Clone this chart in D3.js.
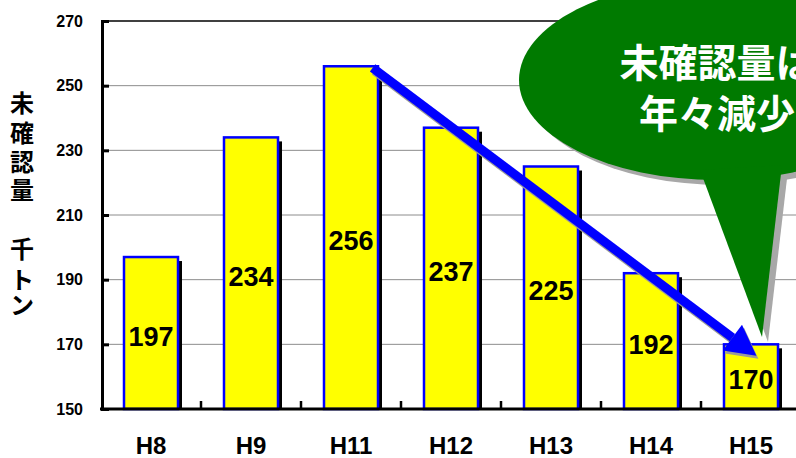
<!DOCTYPE html>
<html>
<head>
<meta charset="utf-8">
<script src="https://cdn.jsdelivr.net/npm/d3@7"></script>
<style>
  body { margin: 0; background: #fff; }
  svg { display: block; }
</style>
</head>
<body>
<svg id="chart" width="796" height="458"></svg>
<script>
  // data
  var categories = ['H8', 'H9', 'H11', 'H12', 'H13', 'H14', 'H15'];
  var values = [197, 234, 256, 237, 225, 192, 170];
  var yTicks = [150, 170, 190, 210, 230, 250, 270];
  var axisTitleTop = ['未', '確', '認', '量'];
  var axisTitleUnit = ['千', 'ト', 'ン'];
  var calloutLines = ['未確認量は', '年々減少'];

  var svg = d3.select('#chart');
  var jpFont = '"Noto Sans CJK JP", "Noto Sans", sans-serif';
  var numFont = '"Liberation Sans", Arial, sans-serif';

  var x = d3.scaleBand().domain(categories).range([101, 801]).paddingInner(0.46).paddingOuter(0.23);
  var y = d3.scaleLinear().domain([150, 270]).range([409, 21]);

  // gridlines
  svg.append('g').selectAll('line')
    .data(yTicks.slice(1))
    .enter().append('line')
    .attr('x1', 101).attr('x2', 796)
    .attr('y1', function(d) { return y(d); })
    .attr('y2', function(d) { return y(d); })
    .attr('stroke', function(d) { return d === 270 ? '#000' : '#8c8c8c'; })
    .attr('stroke-width', function(d) { return d === 270 ? 1.5 : 1; });

  // bars: shadow then bar
  var bar = svg.append('g').selectAll('g')
    .data(values)
    .enter().append('g');

  bar.append('rect')
    .attr('x', function(d, i) { return x(categories[i]) + 4; })
    .attr('y', function(d) { return y(d) + 4; })
    .attr('width', x.bandwidth())
    .attr('height', function(d) { return y(150) - y(d) - 4; })
    .attr('fill', '#000');

  bar.append('rect')
    .attr('x', function(d, i) { return x(categories[i]); })
    .attr('y', function(d) { return y(d); })
    .attr('width', x.bandwidth())
    .attr('height', function(d) { return y(150) - y(d); })
    .attr('fill', '#ffff00')
    .attr('stroke', '#0000ff')
    .attr('stroke-width', 2.5);

  bar.append('text')
    .attr('x', function(d, i) { return x(categories[i]) + x.bandwidth() / 2; })
    .attr('y', function(d) { return (y(d) + y(150)) / 2 + 3; })
    .attr('dy', '.36em')
    .attr('text-anchor', 'middle')
    .style('font-family', numFont)
    .style('font-size', '27px')
    .style('font-weight', 'bold')
    .text(function(d) { return d; });

  // axes
  var yAxis = d3.axisLeft(y).tickValues(yTicks).tickSize(-7).tickPadding(19);
  var gy = svg.append('g').attr('transform', 'translate(102,0)').call(yAxis);
  gy.select('.domain').attr('stroke-width', 3);
  gy.selectAll('.tick line').attr('stroke-width', 3);
  gy.selectAll('text')
    .style('font-family', numFont).style('font-size', '16px').style('font-weight', 'bold')
    .attr('fill', '#000');

  var xAxis = d3.axisBottom(x).tickSize(0).tickPadding(0);
  var gx = svg.append('g').attr('transform', 'translate(0,409)').call(xAxis);
  gx.select('.domain').attr('stroke-width', 3).attr('d', 'M100,0H801');
  gx.selectAll('.tick text')
    .attr('y', 36).attr('dy', '.36em')
    .style('font-family', numFont).style('font-size', '24px').style('font-weight', 'bold')
    .attr('fill', '#000');

  // category boundary ticks pointing up
  gx.selectAll('.sep')
    .data(categories.slice(1))
    .enter().append('line')
    .attr('x1', function(d) { return x(d) - x.step() * x.paddingInner() / 2; })
    .attr('x2', function(d) { return x(d) - x.step() * x.paddingInner() / 2; })
    .attr('y1', 0).attr('y2', -8)
    .attr('stroke', '#000').attr('stroke-width', 2.5);

  // y axis title (vertical)
  var titleTopY = [103, 133, 162, 190];
  var titleUnitY = [249, 280, 305];
  var title = svg.append('g')
    .style('font-family', jpFont).style('font-size', '24px').style('font-weight', 'bold');
  title.selectAll('.t1').data(axisTitleTop).enter().append('text')
    .attr('x', 22).attr('y', function(d, i) { return titleTopY[i]; })
    .attr('dy', '.38em')
    .attr('text-anchor', 'middle').text(function(d) { return d; });
  title.selectAll('.t2').data(axisTitleUnit).enter().append('text')
    .attr('x', 22).attr('y', function(d, i) { return titleUnitY[i]; })
    .attr('dy', '.38em')
    .attr('text-anchor', 'middle').text(function(d) { return d; });

  // trend arrow
  function arrow(g, x0, y0, x1, y1, color) {
    var a = Math.atan2(y1 - y0, x1 - x0), head = 30, half = 16;
    var bx = x1 - head * Math.cos(a), by = y1 - head * Math.sin(a);
    g.append('line')
      .attr('x1', x0).attr('y1', y0).attr('x2', bx).attr('y2', by)
      .attr('stroke', color).attr('stroke-width', 9);
    g.append('path')
      .attr('d', 'M' + x1 + ',' + y1 +
        'L' + (bx + half * Math.sin(a)) + ',' + (by - half * Math.cos(a)) +
        'L' + (bx - half * Math.sin(a)) + ',' + (by + half * Math.cos(a)) + 'Z')
      .attr('fill', color);
  }
  var ax0 = x('H11') + x.bandwidth() * 0.9, ay0 = y(255.5);
  var ax1 = x('H15') + x.bandwidth() * 0.6, ay1 = y(166.5);
  arrow(svg.append('g').attr('transform', 'translate(2,3)'), ax0, ay0, ax1, ay1, '#9a9a9a');
  arrow(svg.append('g'), ax0, ay0, ax1, ay1, '#0000ff');

  // callout bubble
  function bubble(g, color) {
    g.append('ellipse').attr('cx', 717).attr('cy', 80).attr('rx', 198).attr('ry', 100).attr('fill', color);
    g.append('path').attr('d', 'M700,170L762,337L782,165Z').attr('fill', color);
  }
  bubble(svg.append('g').attr('transform', 'translate(6,5)'), '#a8a8a8');
  bubble(svg.append('g'), '#007a00');

  svg.append('g').selectAll('text')
    .data(calloutLines)
    .enter().append('text')
    .attr('x', 717)
    .attr('y', function(d, i) { return 63 + i * 51; })
    .attr('dy', '.36em')
    .attr('text-anchor', 'middle')
    .attr('fill', '#fff')
    .style('font-family', jpFont).style('font-size', '39px').style('font-weight', 'bold')
    .text(function(d) { return d; });
</script>
</body>
</html>
